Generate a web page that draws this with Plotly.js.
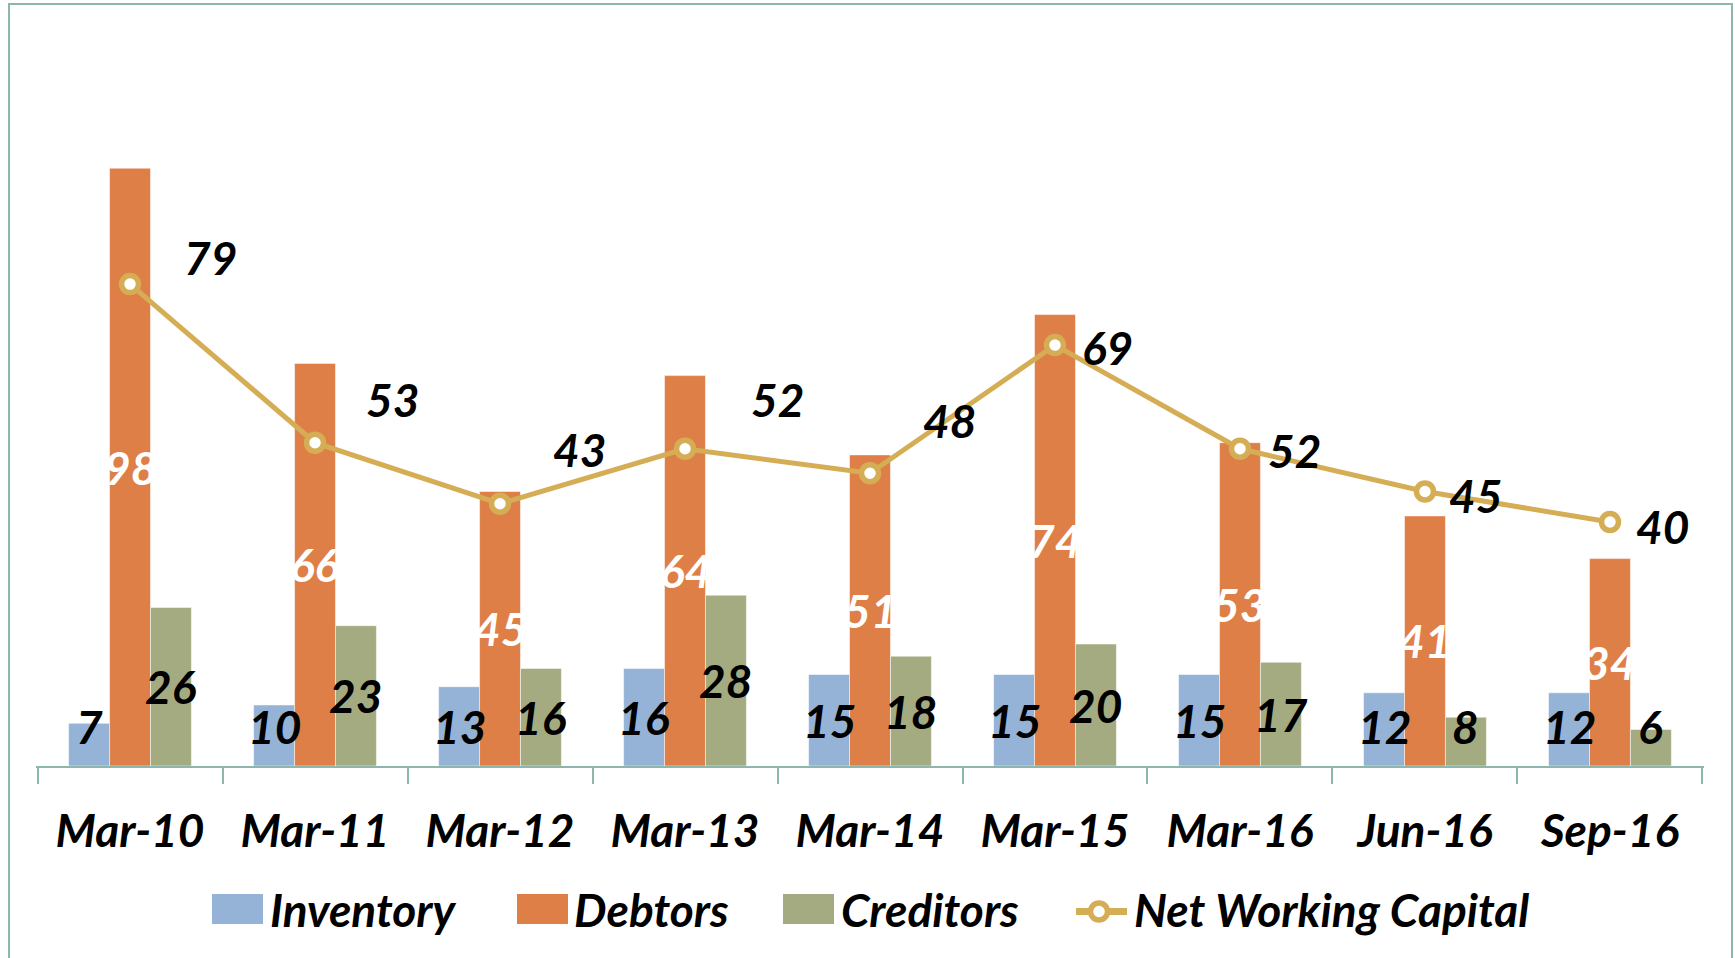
<!DOCTYPE html>
<html><head><meta charset="utf-8">
<script src="https://cdn.plot.ly/plotly-3.0.1.min.js"></script>
<style>html,body{margin:0;padding:0;background:#fff;} #chart{width:1735px;height:958px;}</style>
</head><body><div id="chart"></div>
<script>
// ---- data ----
const categories = ['Mar-10','Mar-11','Mar-12','Mar-13','Mar-14','Mar-15','Mar-16','Jun-16','Sep-16'];
const inventory = [7,10,13,16,15,15,15,12,12];
const debtors = [98,66,45,64,51,74,53,41,34];
const creditors = [26,23,16,28,18,20,17,8,6];
const netWorkingCapital = [79,53,43,52,48,69,52,45,40];
const seriesNames = ['Inventory','Debtors','Creditors','Net Working Capital'];

// ---- styles / layout geometry (pixels) ----
const FONT = 'Lato, "Open Sans", sans-serif';
const FS = 46;
const W = 1735, H = 958, L = 36, R = 1704, T = 156, B = 766;
const PW = R - L, PH = B - T;
const colors = {inv:'#95B3D7', deb:'#DF7F48', cre:'#A5AB80', nwc:'#D5AD55', axis:'#8DB7AC'};
const bargap = 0.336;
const barW = (1 - bargap) / 3;
// NWC label offsets in px (manual placement as in the original)
const nwcLabelDX = [80,77,79,92,79,53,55,51,53];
const nwcLabelDY = [27,43,54,49,53,-2,-2,-4,-4];
const minLabelY = 6.5;

const px = x => (x - L) / PW;
const py = y => (B - y) / PH;
const bold = (c) => ({family: FONT, size: FS, color: c, weight: 'bold', style: 'italic'});

const traces = [
  {type:'bar', name: seriesNames[0], x: categories, y: inventory, marker:{color: colors.inv, line:{color:'rgba(255,255,255,0.5)', width:1}}, hoverinfo:'x+y'},
  {type:'bar', name: seriesNames[1], x: categories, y: debtors, marker:{color: colors.deb, line:{color:'rgba(255,255,255,0.5)', width:1}}, hoverinfo:'x+y'},
  {type:'bar', name: seriesNames[2], x: categories, y: creditors, marker:{color: colors.cre, line:{color:'rgba(255,255,255,0.5)', width:1}}, hoverinfo:'x+y'},
  {type:'scatter', mode:'lines+markers', name: seriesNames[3], x: categories, y: netWorkingCapital,
   line:{color: colors.nwc, width:5}, marker:{symbol:'circle', size:17, color:'#ffffff', line:{color: colors.nwc, width:5.5}}, cliponaxis:false}
];

const annotations = [];
const barSeries = [[inventory, -barW, '#000'], [debtors, 0, '#fff'], [creditors, barW, '#000']];
barSeries.forEach(([vals, off, col], si) => {
  vals.forEach((v, i) => {
    const yy = si === 1 ? v / 2 : Math.max(v / 2, minLabelY);
    annotations.push({xref:'x', yref:'y', x: i + off, y: yy, text: String(v), showarrow:false,
      xanchor:'center', yanchor:'middle', font: bold(col)});
  });
});
netWorkingCapital.forEach((v, i) => {
  annotations.push({xref:'x', yref:'y', x: i, y: v, text: String(v), showarrow:false,
    xanchor:'center', yanchor:'middle', xshift: nwcLabelDX[i], yshift: nwcLabelDY[i], font: bold('#000')});
});

// custom legend
const legY0 = 894, legY1 = 924, legYc = 909.5, legLineY = 911.5;
const legBoxes = [[212, 263, colors.inv, 268, seriesNames[0]], [517, 568, colors.deb, 572, seriesNames[1]], [783, 834, colors.cre, 839, seriesNames[2]]];
const shapes = [];
legBoxes.forEach(([x0, x1, c, tx, name]) => {
  shapes.push({type:'rect', xref:'paper', yref:'paper', x0: px(x0), x1: px(x1), y0: py(legY1), y1: py(legY0), fillcolor: c, line:{width:0}});
  annotations.push({xref:'paper', yref:'paper', x: px(tx), y: py(legYc), text: name, showarrow:false, xanchor:'left', yanchor:'middle', font: bold('#000')});
});
shapes.push({type:'line', xref:'paper', yref:'paper', x0: px(1076), x1: px(1127), y0: py(legLineY), y1: py(legLineY), line:{color: colors.nwc, width:7}});
shapes.push({type:'circle', xref:'paper', yref:'paper', xsizemode:'pixel', ysizemode:'pixel', xanchor: px(1099), yanchor: py(legLineY),
  x0:-8.5, x1:8.5, y0:-8.5, y1:8.5, fillcolor:'#fff', line:{color: colors.nwc, width:5.5}});
annotations.push({xref:'paper', yref:'paper', x: px(1132), y: py(legYc), text: seriesNames[3], showarrow:false, xanchor:'left', yanchor:'middle', font: bold('#000')});

// outer border (bottom edge lies off-page)
shapes.push({type:'rect', xref:'paper', yref:'paper', x0: px(9), x1: px(1732), y0: py(975), y1: py(4), line:{color: colors.axis, width:2}, fillcolor:'rgba(0,0,0,0)', layer:'below'});

const layout = {
  width: W, height: H,
  margin: {l: L, r: W - R, t: T, b: H - B, pad: 0},
  paper_bgcolor:'#fff', plot_bgcolor:'#fff',
  barmode:'group', bargap: bargap, bargroupgap: 0,
  showlegend: false,
  xaxis: {type:'category', showline:true, linecolor: colors.axis, linewidth:2, ticks:'outside', tickson:'boundaries',
    ticklen:16, tickwidth:2, tickcolor: colors.axis, showgrid:false, zeroline:false, tickfont: bold('#000'), ticklabelstandoff: 24},
  yaxis: {range:[0,100], visible:false, showgrid:false, zeroline:false},
  annotations: annotations,
  shapes: shapes
};

Plotly.newPlot('chart', traces, layout, {displayModeBar:false, staticPlot:true});
</script>
</body></html>
